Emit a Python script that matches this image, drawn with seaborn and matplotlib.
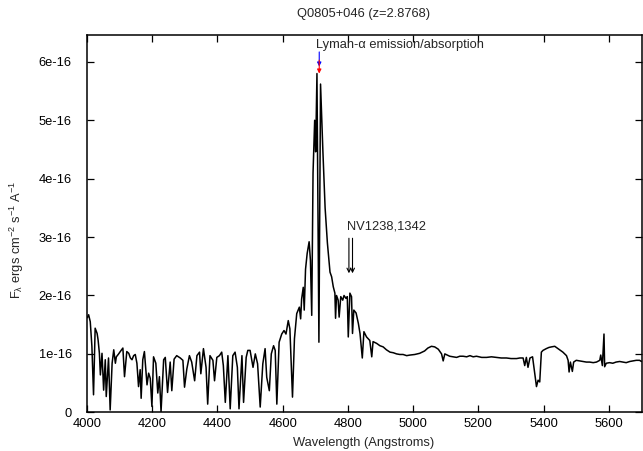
import numpy as np
import pandas as pd
import matplotlib
matplotlib.use("Agg")
import matplotlib.pyplot as plt
from matplotlib.ticker import FuncFormatter, MultipleLocator
import seaborn as sns

# Observed wavelength (Angstroms) and flux (units of 1e-16 erg cm^-2 s^-1 A^-1)
wavelength = [
    4001, 4005, 4010, 4015, 4020, 4025, 4031, 4034, 4038, 4041, 4046, 4051,
    4056, 4059, 4066, 4071, 4077, 4082, 4087, 4090, 4097, 4102, 4110, 4115,
    4122, 4128, 4133, 4138, 4143, 4148, 4153, 4158, 4163, 4166, 4171, 4176,
    4184, 4189, 4194, 4199, 4204, 4211, 4217, 4222, 4227, 4235, 4240, 4247,
    4255, 4260, 4267, 4275, 4286, 4294, 4299, 4306, 4314, 4321, 4330, 4337,
    4345, 4349, 4357, 4365, 4370, 4377, 4386, 4391, 4398, 4406, 4413, 4418,
    4424, 4432, 4439, 4447, 4454, 4461, 4466, 4475, 4480, 4488, 4493, 4500,
    4509, 4516, 4523, 4531, 4539, 4546, 4551, 4559, 4565, 4572, 4577, 4582,
    4589, 4597, 4604, 4610, 4617, 4622, 4630, 4636, 4643, 4651, 4655, 4658,
    4663, 4666, 4670, 4675, 4681, 4685, 4689, 4693, 4698, 4701, 4705, 4711,
    4716, 4723, 4730, 4737, 4745, 4750, 4755, 4760, 4762, 4765, 4770, 4773,
    4778, 4784, 4788, 4794, 4798, 4801, 4806, 4811, 4814, 4818, 4825, 4832,
    4837, 4844, 4849, 4857, 4867, 4873, 4877, 4888, 4898, 4908, 4918, 4929,
    4939, 4949, 4959, 4969, 4980, 4990, 5005, 5020, 5035, 5045, 5056, 5066,
    5077, 5087, 5092, 5097, 5112, 5122, 5133, 5143, 5153, 5164, 5174, 5184,
    5194, 5210, 5225, 5240, 5255, 5270, 5286, 5300, 5317, 5327, 5337, 5342,
    5347, 5352, 5358, 5366, 5373, 5378, 5383, 5388, 5393, 5398, 5408, 5416,
    5424, 5434, 5444, 5452, 5459, 5470, 5475, 5478, 5482, 5488, 5492, 5500,
    5510, 5521, 5531, 5541, 5552, 5562, 5572, 5575, 5580, 5585, 5587, 5592,
    5602, 5612, 5622, 5633, 5643, 5653, 5664, 5674, 5684, 5694, 5700,
]
flux = [
    1.62, 1.67, 1.55, 1.13, 0.30, 1.44, 1.35, 1.24, 1.01, 0.64, 1.01, 0.38,
    0.90, 0.27, 0.93, 0.04, 0.84, 1.07, 0.84, 0.95, 1.00, 1.04, 1.10, 0.61,
    1.04, 1.01, 0.93, 0.90, 0.97, 0.99, 0.84, 0.44, 0.73, 0.24, 0.90, 1.04,
    0.47, 0.67, 0.58, 0.10, 0.95, 0.84, 0.33, 0.61, 0.01, 0.90, 0.94, 0.34,
    0.86, 0.37, 0.91, 0.97, 0.93, 0.89, 0.43, 0.74, 0.97, 0.86, 0.54, 0.97,
    1.03, 0.66, 1.09, 0.77, 0.14, 0.97, 0.89, 0.54, 0.94, 0.97, 1.03, 0.80,
    0.17, 0.97, 0.06, 0.97, 1.03, 0.77, 0.06, 0.97, 0.17, 0.94, 1.06, 1.06,
    0.77, 1.00, 0.83, 0.09, 0.83, 1.09, 0.60, 0.37, 1.00, 1.14, 1.06, 0.14,
    1.20, 1.34, 1.40, 1.34, 1.57, 1.43, 0.26, 1.26, 1.69, 1.80, 1.60, 1.94,
    2.14, 1.75, 2.45, 2.72, 2.92, 2.60, 1.66, 4.10, 5.00, 4.46, 5.80, 1.20,
    5.62, 4.50, 3.50, 2.90, 2.40, 2.32, 2.15, 2.04, 1.61, 2.00, 1.92, 1.63,
    1.98, 1.92, 2.00, 1.95, 1.98, 1.29, 2.04, 1.98, 1.35, 1.75, 1.70, 1.52,
    1.35, 0.93, 1.38, 1.29, 1.23, 0.95, 1.21, 1.18, 1.14, 1.12, 1.07, 1.03,
    1.02, 1.00, 0.99, 0.99, 0.97, 0.98, 0.99, 1.01, 1.05, 1.10, 1.13, 1.12,
    1.08, 1.00, 0.88, 1.00, 0.96, 0.95, 0.94, 0.96, 0.96, 0.95, 0.97, 0.95,
    0.96, 0.94, 0.94, 0.95, 0.94, 0.93, 0.93, 0.92, 0.92, 0.93, 0.93, 0.80,
    0.94, 0.77, 0.93, 0.95, 0.66, 0.44, 0.55, 0.52, 1.03, 1.06, 1.09, 1.11,
    1.12, 1.13, 1.09, 1.06, 1.03, 0.97, 0.89, 0.69, 0.86, 0.70, 0.86, 0.89,
    0.88, 0.87, 0.86, 0.86, 0.85, 0.86, 0.89, 0.98, 0.80, 1.34, 0.78, 0.84,
    0.85, 0.84, 0.86, 0.87, 0.86, 0.85, 0.87, 0.88, 0.89, 0.89, 0.87,
]

SCALE = 1e-16
title_text = "Q0805+046 (z=2.8768)"
lya_label = "Lyman-α emission/absorption"
lya_wave = 4712
nv_label = "NV1238,1342"
nv_waves = [4803, 4814]

df = pd.DataFrame({"wavelength": wavelength,
                   "flux": np.array(flux) * SCALE})

sns.set_style("ticks")
plt.rcParams["font.family"] = ["Liberation Sans", "DejaVu Sans"]
plt.rcParams["mathtext.fontset"] = "custom"
plt.rcParams["mathtext.rm"] = "Liberation Sans"
plt.rcParams["mathtext.it"] = "Liberation Sans:italic"
plt.rcParams["mathtext.default"] = "regular"

W, H = 643, 451
fig = plt.figure(figsize=(W / 100, H / 100), dpi=100)
left, right, bottom, top = 87, 641.5, 412.3, 35
ax = fig.add_axes([left / W, 1 - bottom / H, (right - left) / W, (bottom - top) / H])

sns.lineplot(data=df, x="wavelength", y="flux", color="black", lw=1.1,
             estimator=None, sort=False, ax=ax)

ax.set_xlim(4000, 5700)
ax.set_ylim(0, 6.46 * SCALE)
ax.xaxis.set_major_locator(MultipleLocator(200))
ax.yaxis.set_major_locator(MultipleLocator(1 * SCALE))
ax.yaxis.set_major_formatter(FuncFormatter(
    lambda v, p: "0" if abs(v) < 1e-20 else f"{int(round(v / SCALE))}e-16"))
ax.tick_params(axis="both", direction="in", length=5, width=0.9,
               top=True, right=True, labelsize=9.3, colors="black")
ax.tick_params(axis="x", pad=4)
ax.tick_params(axis="y", pad=11)
for s in ax.spines.values():
    s.set_linewidth(1.1)
    s.set_color("black")
ax.set_xlabel("")
ax.set_ylabel("")

fig.text(364 / W, 1 - 14 / H, title_text, ha="center", va="center", fontsize=9.3)
fig.text(364 / W, 1 - 443 / H, "Wavelength (Angstroms)", ha="center",
         va="center", fontsize=9.3)
fig.text(17 / W, 1 - 240 / H, r"F$_\lambda$ ergs cm$^{-2}$ s$^{-1}$ A$^{-1}$",
         ha="center", va="center", rotation=90, fontsize=9.3)

# Lyman-alpha markers
ax.text(4702, 6.29 * SCALE, lya_label, ha="left", va="center", fontsize=9.3)
ax.annotate("", xy=(lya_wave, 5.92 * SCALE), xytext=(lya_wave, 6.17 * SCALE),
            arrowprops=dict(arrowstyle="-|>", color="blue", lw=0.8,
                            mutation_scale=6, shrinkA=0, shrinkB=0))
ax.annotate("", xy=(lya_wave, 5.80 * SCALE), xytext=(lya_wave, 6.03 * SCALE),
            arrowprops=dict(arrowstyle="-|>", color="red", lw=0.8,
                            mutation_scale=6, shrinkA=0, shrinkB=0))

# N V doublet markers
ax.text(4796, 3.18 * SCALE, nv_label, ha="left", va="center", fontsize=9.3)
for w in nv_waves:
    ax.annotate("", xy=(w, 2.38 * SCALE), xytext=(w, 2.98 * SCALE),
                arrowprops=dict(arrowstyle="->", color="black", lw=0.8,
                                mutation_scale=7, shrinkA=0, shrinkB=0))

fig.savefig("out.png", dpi=100)
